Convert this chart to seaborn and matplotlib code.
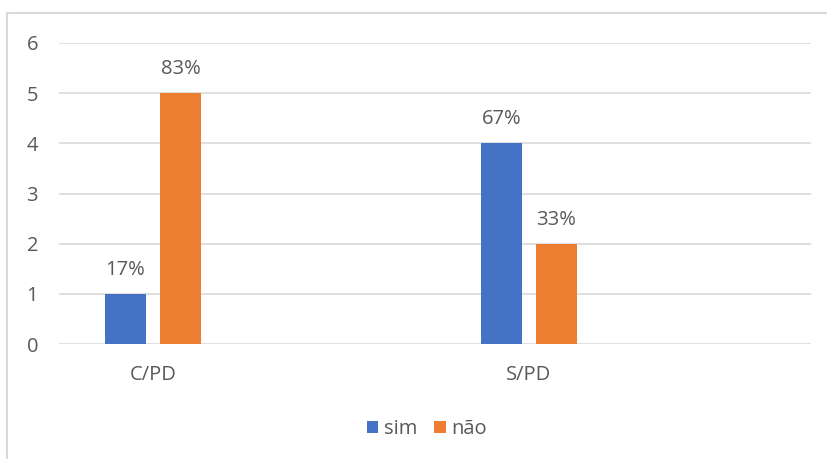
import matplotlib
matplotlib.use("Agg")
import matplotlib.pyplot as plt
from matplotlib.patches import Rectangle
import seaborn as sns
import pandas as pd

categories = ["C/PD", "S/PD"]
sim_values = [1, 4]
nao_values = [5, 2]
sim_labels = ["17%", "67%"]
nao_labels = ["83%", "33%"]
series = ["sim", "não"]

sns.set_style("white")
plt.rcParams['font.family'] = ['Open Sans', 'DejaVu Sans']

df = pd.DataFrame({
    "cat": categories * 2,
    "serie": [series[0]] * 2 + [series[1]] * 2,
    "val": sim_values + nao_values,
    "lab": sim_labels + nao_labels,
})

order = ["C/PD", "_e1", "S/PD", "_e2"]
colors = {"sim": "#4472C4", "não": "#ED7D31"}
txt = "#595959"
fs = 14.5

fig = plt.figure(figsize=(8.27, 4.59), dpi=100)
ax = fig.add_axes([59/827, 1 - 344/459, (811 - 59)/827, (344 - 43)/459])

sns.barplot(data=df, x="cat", y="val", hue="serie", order=order,
            hue_order=series, palette=colors, width=0.585, gap=0.24,
            ax=ax, legend=True, saturation=1, linewidth=0)

for cont, labs in zip(ax.containers, [sim_labels, nao_labels]):
    ax.bar_label(cont, labels=labs, padding=10, fontsize=fs, color=txt)

ax.set_ylim(0, 6)
ax.set_yticks(range(0, 7))
ax.set_xlim(-0.5, 3.5)
ax.set_xticks(range(4))
ax.set_xticklabels(["C/PD", "", "S/PD", ""])
ax.yaxis.grid(True, color="#D9D9D9", linewidth=1.2)
ax.set_axisbelow(True)
for s in ax.spines.values():
    s.set_visible(False)
ax.tick_params(axis="both", length=0, labelsize=fs, labelcolor=txt)
ax.tick_params(axis="y", pad=15)
ax.tick_params(axis="x", pad=15)
ax.set_xlabel("")
ax.set_ylabel("")

handles, labels = ax.get_legend_handles_labels()
ax.legend_.remove()
fig.legend(handles, labels, loc="center", bbox_to_anchor=(427/827, 1 - 429/459),
           ncol=2, frameon=False, fontsize=fs, labelcolor=txt,
           handlelength=0.58, handleheight=0.58, handletextpad=0.3, columnspacing=0.8)

fig.patches.append(Rectangle((7/827, -0.2), 1.2, 1 - 13/459 + 0.2,
                             transform=fig.transFigure, fill=False,
                             edgecolor="#D9D9D9", linewidth=1.5))

fig.savefig("out.png", dpi=100)
